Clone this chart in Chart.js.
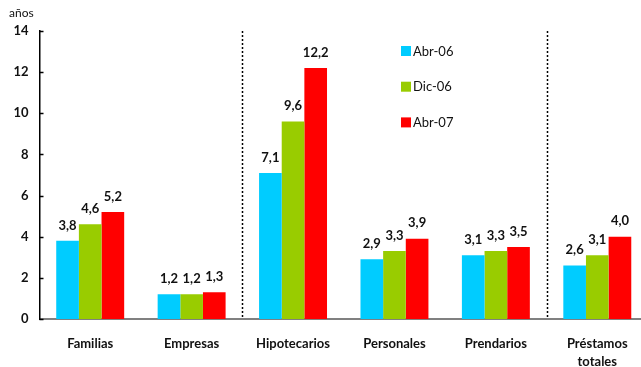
<!DOCTYPE html>
<html>
<head>
<meta charset="utf-8">
<script src="https://cdn.jsdelivr.net/npm/chart.js@4/dist/chart.umd.min.js"></script>
<style>
  html, body { margin: 0; padding: 0; background: #fff; overflow: hidden; }
  #wrap { width: 641px; height: 367px; overflow: hidden; position: relative; }
  #box { width: 648px; height: 367px; }
</style>
</head>
<body>
<div id="wrap"><div id="box"><canvas id="c"></canvas></div></div>
<script>
// Plazo promedio de los créditos (años)
const categories = ['Familias', 'Empresas', 'Hipotecarios', 'Personales', 'Prendarios', ['Préstamos', 'totales']];
const abr06 = [3.8, 1.2, 7.1, 2.9, 3.1, 2.6];
const dic06 = [4.6, 1.2, 9.6, 3.3, 3.3, 3.1];
const abr07 = [5.2, 1.3, 12.2, 3.9, 3.5, 4.0];
const seriesNames = ['Abr-06', 'Dic-06', 'Abr-07'];
const seriesColors = ['#00CCFF', '#99CC00', '#FF0000'];
const yTicks = [0, 2, 4, 6, 8, 10, 12, 14];

const FONT = 'Lato, "Open Sans", sans-serif';

// value labels above each bar
const valueLabels = {
  id: 'valueLabels',
  afterDatasetsDraw(chart) {
    const ctx = chart.ctx;
    ctx.save();
    ctx.font = 'bold 13px ' + FONT;
    ctx.fillStyle = '#111';
    ctx.textAlign = 'center';
    ctx.textBaseline = 'bottom';
    chart.data.datasets.forEach((ds, i) => {
      chart.getDatasetMeta(i).data.forEach((bar, j) => {
        ctx.fillText(ds.data[j].toFixed(1).replace('.', ','), bar.x, bar.y - 9);
      });
    });
    ctx.restore();
  }
};

// dotted separators between groups, inward ticks on the y axis, unit label
const decorations = {
  id: 'decorations',
  afterDraw(chart) {
    const ctx = chart.ctx;
    const x = chart.scales.x, y = chart.scales.y;
    const area = chart.chartArea;
    ctx.save();
    ctx.strokeStyle = '#000';
    ctx.lineWidth = 1.5;
    ctx.setLineDash([2, 2]);
    [[1, 2], [4, 5]].forEach(([a, b]) => {
      const px = Math.round((x.getPixelForValue(a) + x.getPixelForValue(b)) / 2) + 0.5;
      ctx.beginPath();
      ctx.moveTo(px, area.top);
      ctx.lineTo(px, area.bottom);
      ctx.stroke();
    });
    ctx.setLineDash([]);
    ctx.lineWidth = 1.5;
    yTicks.forEach(v => {
      const py = Math.round(y.getPixelForValue(v)) + 0.5;
      ctx.beginPath();
      ctx.moveTo(area.left, py);
      ctx.lineTo(area.left + 4, py);
      ctx.stroke();
    });
    ctx.font = '12px ' + FONT;
    ctx.fillStyle = '#111';
    ctx.textAlign = 'left';
    ctx.textBaseline = 'middle';
    ctx.fillText('años', 9, 13);
    ctx.restore();
  }
};

// legend inside the plot
const insideLegend = {
  id: 'insideLegend',
  afterDraw(chart) {
    const ctx = chart.ctx;
    ctx.save();
    ctx.font = '13px ' + FONT;
    ctx.textAlign = 'left';
    ctx.textBaseline = 'middle';
    chart.data.datasets.forEach((ds, i) => {
      const top = 46 + i * 35.7;
      ctx.fillStyle = ds.backgroundColor;
      ctx.fillRect(401, top, 10, 10);
      ctx.fillStyle = '#111';
      ctx.fillText(ds.label, 413, top + 5.5);
    });
    ctx.restore();
  }
};

new Chart(document.getElementById('c'), {
  type: 'bar',
  data: {
    labels: categories,
    datasets: [abr06, dic06, abr07].map((d, i) => ({
      label: seriesNames[i],
      data: d,
      backgroundColor: seriesColors[i],
      borderWidth: 0,
      categoryPercentage: 0.67,
      barPercentage: 1.0
    }))
  },
  options: {
    responsive: true,
    maintainAspectRatio: false,
    animation: false,
    layout: { padding: { top: 31, left: 0, right: 0, bottom: 0 } },
    plugins: { legend: { display: false }, tooltip: { enabled: false } },
    scales: {
      x: {
        grid: { display: false, drawTicks: false },
        border: { display: true, color: '#808080', width: 2 },
        ticks: {
          color: '#111',
          padding: 16,
          font: { family: FONT, size: 13, weight: 'bold', lineHeight: 1.4 }
        },
        afterFit(scale) { scale.height = 48; }
      },
      y: {
        min: 0,
        max: 14,
        grid: { display: false, drawTicks: false },
        border: { display: true, color: '#000', width: 1.5 },
        afterBuildTicks(scale) { scale.ticks = yTicks.map(v => ({ value: v })); },
        ticks: {
          color: '#111',
          padding: 11,
          font: { family: FONT, size: 13, weight: 'bold' }
        },
        afterFit(scale) { scale.width = 39.5; }
      }
    }
  },
  plugins: [valueLabels, decorations, insideLegend]
});
</script>
</body>
</html>
